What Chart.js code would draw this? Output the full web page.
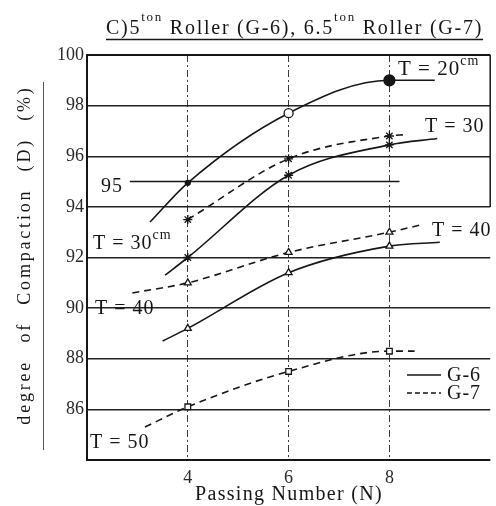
<!DOCTYPE html>
<html>
<head>
<meta charset="utf-8"/>
<title>Degree of compaction vs passing number</title>
<script src="https://cdn.jsdelivr.net/npm/chart.js@4/dist/chart.umd.min.js"></script>
<style>
  html, body { margin: 0; padding: 0; background: #fff; }
  #chart { display: block; }
</style>
</head>
<body>
<canvas id="chart" width="496" height="506"></canvas>
<script>
// passing numbers where compaction was measured
var passes = [4, 6, 8];

// curves: N and D(%) values, first/last entries are where the drawn curve ends
var g6T20N = [3.25, 4, 6, 8, 8.9];
var g6T20D = [93.4, 94.95, 97.7, 99.0, 99.0];
var g6T30N = [3.55, 4, 6, 8, 8.95];
var g6T30D = [91.3, 92.0, 95.25, 96.45, 96.7];
var g7T30N = [4, 6, 8, 8.3];
var g7T30D = [93.5, 95.9, 96.8, 96.85];
var g7T40N = [2.9, 4, 6, 8, 8.65];
var g7T40D = [90.6, 91.0, 92.2, 93.0, 93.3];
var g6T40N = [3.5, 4, 6, 8, 9.0];
var g6T40D = [88.7, 89.2, 91.4, 92.45, 92.6];
var g7T50N = [3.15, 4, 6, 8, 8.5];
var g7T50D = [85.3, 86.1, 87.5, 88.3, 88.3];

// 95% reference line
var line95N = [2.85, 8.2];
var line95D = [95, 95];

var xTicks = [4, 6, 8];
var yTicks = [84, 86, 88, 90, 92, 94, 96, 98, 100];
var legendLabels = ['G-6', 'G-7'];

var SERIF = '"Liberation Serif", "DejaVu Serif", serif';
var INK = '#161616';

function points(N, D) {
  return N.map(function (n, i) { return { x: n, y: D[i] }; });
}

function curve(N, D, dashed, style, r, fill) {
  return {
    data: points(N, D),
    borderColor: INK,
    borderWidth: 1.6,
    borderDash: dashed ? [7, 5] : [],
    cubicInterpolationMode: 'monotone',
    pointStyle: style,
    pointRadius: N.map(function (n) { return passes.indexOf(n) >= 0 ? r : 0; }),
    pointBorderColor: INK,
    pointBorderWidth: 1.3,
    pointBackgroundColor: fill || '#fff'
  };
}

var t20 = curve(g6T20N, g6T20D, false, 'circle', 0);
t20.pointRadius = [0, 2.5, 4.5, 5.5, 0];
t20.pointBackgroundColor = [INK, INK, '#fff', INK, INK];

var datasets = [
  t20,
  curve(g6T30N, g6T30D, false, 'star', 4.5),
  curve(g7T30N, g7T30D, true, 'star', 4.5),
  curve(g7T40N, g7T40D, true, 'triangle', 4),
  curve(g6T40N, g6T40D, false, 'triangle', 4),
  curve(g7T50N, g7T50D, true, 'rect', 4),
  {
    data: points(line95N, line95D),
    borderColor: INK,
    borderWidth: 1.4,
    pointRadius: 0
  }
];

// draws text pieces one after another, used for the superscripts
function run(ctx, x, y, parts) {
  parts.forEach(function (p) {
    ctx.font = p.size + 'px ' + SERIF;
    ctx.fillText(p.text, x, y - (p.rise || 0));
    x += ctx.measureText(p.text).width;
  });
  return x;
}

var decor = {
  id: 'decor',
  afterDraw: function (chart) {
    var ctx = chart.ctx, a = chart.chartArea;
    var y94 = chart.scales.y.getPixelForValue(94);
    ctx.save();

    // frame
    ctx.strokeStyle = INK;
    ctx.lineWidth = 2;
    ctx.beginPath();
    ctx.moveTo(a.right, a.top);
    ctx.lineTo(a.left, a.top);
    ctx.lineTo(a.left, a.bottom);
    ctx.lineTo(a.right, a.bottom);
    ctx.stroke();
    ctx.lineWidth = 1.5;
    ctx.beginPath();
    ctx.moveTo(a.right, a.top);
    ctx.lineTo(a.right, y94);
    ctx.stroke();

    ctx.fillStyle = INK;
    ctx.textBaseline = 'alphabetic';
    ctx.textAlign = 'left';

    // title with superscripts, underlined
    ctx.letterSpacing = '1.75px';
    var x0 = 106;
    var x1 = run(ctx, x0, 34, [
      { text: 'C)5', size: 20 },
      { text: 'ton', size: 13, rise: 13 },
      { text: ' Roller (G-6), 6.5', size: 20 },
      { text: 'ton', size: 13, rise: 13 },
      { text: ' Roller (G-7)', size: 20 }
    ]);
    ctx.lineWidth = 1.3;
    ctx.beginPath();
    ctx.moveTo(x0, 39.5);
    ctx.lineTo(x1, 39.5);
    ctx.stroke();

    // curve labels
    ctx.letterSpacing = '1px';
    run(ctx, 398, 75, [{ text: 'T = 20', size: 21 }, { text: 'cm', size: 14, rise: 10 }]);
    run(ctx, 425, 132, [{ text: 'T = 30', size: 20 }]);
    run(ctx, 93, 249, [{ text: 'T = 30', size: 20 }, { text: 'cm', size: 14, rise: 10 }]);
    run(ctx, 95, 314, [{ text: 'T = 40', size: 20 }]);
    run(ctx, 432, 236, [{ text: 'T = 40', size: 20 }]);
    run(ctx, 90, 448, [{ text: 'T = 50', size: 20 }]);
    run(ctx, 101, 192, [{ text: '95', size: 20 }]);

    // legend
    ctx.lineWidth = 1.6;
    [375, 393].forEach(function (ly, i) {
      ctx.setLineDash(i ? [5, 3] : []);
      ctx.beginPath();
      ctx.moveTo(407, ly);
      ctx.lineTo(441, ly);
      ctx.stroke();
      ctx.setLineDash([]);
      run(ctx, 447, ly + 6, [{ text: legendLabels[i], size: 20 }]);
    });

    // axis titles
    ctx.letterSpacing = '1.3px';
    ctx.textAlign = 'center';
    ctx.font = '20px ' + SERIF;
    ctx.fillText('Passing Number (N)', 289, 500);

    ctx.translate(30, 255);
    ctx.rotate(-Math.PI / 2);
    ctx.letterSpacing = '2.8px';
    ctx.wordSpacing = '10px';
    ctx.font = '18px ' + SERIF;
    ctx.fillText('degree of Compaction (D) (%)', 0, 0);
    ctx.restore();

    // rule beside the y title
    ctx.save();
    ctx.strokeStyle = '#555';
    ctx.lineWidth = 1;
    ctx.beginPath();
    ctx.moveTo(43.5, 82);
    ctx.lineTo(43.5, 450);
    ctx.stroke();
    ctx.restore();
  }
};

new Chart(document.getElementById('chart'), {
  type: 'line',
  data: { datasets: datasets },
  options: {
    responsive: false,
    animation: false,
    devicePixelRatio: 1,
    layout: { padding: { top: 55, right: 4, left: 0, bottom: 0 } },
    plugins: { legend: { display: false }, tooltip: { enabled: false } },
    scales: {
      x: {
        type: 'linear',
        min: 2,
        max: 10,
        afterBuildTicks: function (s) { s.ticks = xTicks.map(function (v) { return { value: v }; }); },
        afterFit: function (s) { s.height = 46; },
        grid: { color: '#3a3a3a', lineWidth: 1, drawTicks: false },
        border: { display: false, dash: [7, 3, 2, 3] },
        ticks: { padding: 7, color: '#2a2a2a', font: { family: SERIF, size: 18 } }
      },
      y: {
        type: 'linear',
        min: 84,
        max: 100,
        afterBuildTicks: function (s) { s.ticks = yTicks.map(function (v) { return { value: v }; }); },
        afterFit: function (s) { s.width = 87; },
        grid: { color: '#222', lineWidth: 1.5, drawTicks: false },
        border: { display: false },
        ticks: {
          padding: 3,
          color: '#2a2a2a',
          font: { family: SERIF, size: 18 },
          callback: function (v) { return v === 84 ? '' : v; }
        }
      }
    }
  },
  plugins: [decor]
});
</script>
</body>
</html>
